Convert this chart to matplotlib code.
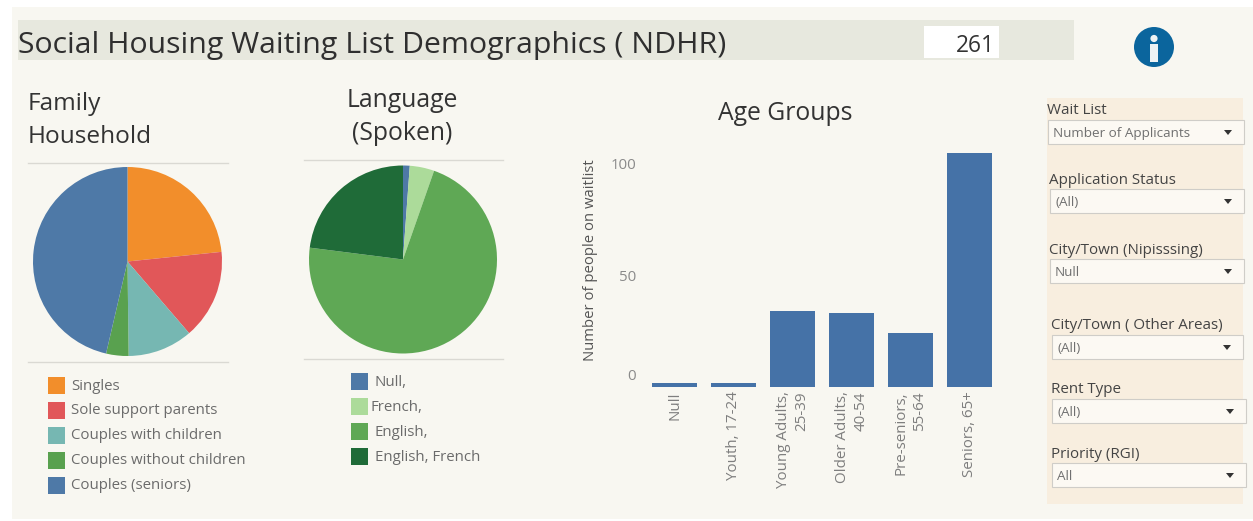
import matplotlib
matplotlib.use('Agg')
import matplotlib.pyplot as plt
from matplotlib.patches import Rectangle, Circle, Polygon
from matplotlib.transforms import ScaledTranslation

W, H = 1253, 521
plt.rcParams['font.family'] = ['Open Sans', 'DejaVu Sans']

# data
family_labels = ['Singles', 'Sole support parents', 'Couples with children',
                 'Couples without children', 'Couples (seniors)']
family_values = [61, 40, 29, 10, 121]
family_colors = ['#F28E2B', '#E15759', '#76B7B2', '#59A14F', '#4E79A7']

language_labels = ['Null,', 'French,', 'English,', 'English, French']
language_values = [3, 11, 187, 60]
language_colors = ['#4E79A7', '#ACDB9A', '#5FA855', '#1F6B38']

age_labels = ['Null', 'Youth, 17-24', 'Young Adults,\n25-39', 'Older Adults,\n40-54',
              'Pre-seniors,\n55-64', 'Seniors, 65+']
age_values = [2, 2, 34, 33, 24, 105]
age_ticks = [0, 50, 100]

filter_titles = ['Wait List', 'Application Status', 'City/Town (Nipisssing)',
                 'City/Town ( Other Areas)', 'Rent Type', 'Priority (RGI)']
filter_values = ['Number of Applicants', '(All)', 'Null', '(All)', '(All)', 'All']
filter_boxes = [(1048, 120, 196), (1050, 189, 194), (1050, 259, 194),
                (1052, 335, 191), (1052, 399, 194), (1052, 463, 194)]
filter_title_y = [110.5, 180.5, 250.5, 325.5, 389.5, 454.5]
total_count = '261'


def px_axes(left, top, right, bottom):
    return fig.add_axes([left / W, 1 - bottom / H, (right - left) / W, (bottom - top) / H])


fig = plt.figure(figsize=(W / 100, H / 100), dpi=100, facecolor='white')

# whole-figure layer in pixel coordinates for the dashboard furniture
bg = fig.add_axes([0, 0, 1, 1])
bg.set_xlim(0, W)
bg.set_ylim(H, 0)
bg.axis('off')

bg.add_patch(Rectangle((12, 7), W - 12, H - 9, color='#F8F7F1', lw=0))
bg.add_patch(Rectangle((18, 20), 1056, 40, color='#E7E8DE', lw=0))
bg.add_patch(Rectangle((924, 26), 75, 32, color='white', lw=0))
bg.text(18, 45, 'Social Housing Waiting List Demographics ( NDHR)', fontsize=21.8,
        color='#2F2F2F', va='center')
bg.text(994.5, 46, total_count, fontsize=16.4, color='#333333', va='center', ha='right')

# info icon
bg.add_patch(Circle((1154, 47), 20, color='#0B659D', lw=0))
bg.add_patch(Circle((1154, 38.5), 3.6, color='#EEF3F4', lw=0))
bg.add_patch(Rectangle((1150, 44), 8, 18, color='#EEF3F4', lw=0))

# section titles
bg.text(28, 104, 'Family', fontsize=17.6, color='#333333', va='center')
bg.text(28, 137, 'Household', fontsize=17.6, color='#333333', va='center')
bg.text(402, 100.5, 'Language', fontsize=17.8, color='#333333', va='center', ha='center')
bg.text(402, 133, '(Spoken)', fontsize=17.8, color='#333333', va='center', ha='center')
bg.text(785, 114, 'Age Groups', fontsize=17.8, color='#333333', va='center', ha='center')

# rules above and below pies
for x0, x1, y in [(28, 228, 163), (28, 228, 362), (304, 503, 160), (304, 503, 359)]:
    bg.plot([x0, x1], [y, y], color='#DAD9D3', lw=1)

# pies
ax1 = px_axes(33, 167, 222, 356)
ax1.pie(family_values, colors=family_colors, startangle=90, counterclock=False, radius=1)
ax1.set_xlim(-1, 1)
ax1.set_ylim(-1, 1)

ax2 = px_axes(309, 165.5, 497, 353.5)
ax2.pie(language_values, colors=language_colors, startangle=90, counterclock=False, radius=1)
ax2.set_xlim(-1, 1)
ax2.set_ylim(-1, 1)

# legends
for i, (lab, col) in enumerate(zip(family_labels, family_colors)):
    y = 377 + i * 24.9
    bg.add_patch(Rectangle((48, y), 17, 17, color=col, lw=0))
    bg.text(71, y + 9, lab, fontsize=10.8, color='#6B6B6B', va='center')

for i, (lab, col) in enumerate(zip(language_labels, language_colors)):
    y = 373 + i * 24.9
    bg.add_patch(Rectangle((351, y), 17, 17, color=col, lw=0))
    bg.text(371 if lab == 'French,' else 375, y + 10, lab, fontsize=10.8, color='#6B6B6B', va='center')

# bar chart
ax3 = px_axes(645, 145, 999, 387)
ax3.set_facecolor('none')
ax3.bar(range(len(age_values)), age_values, width=0.76, color='#4572A7')
ax3.set_xlim(-0.5, 5.5)
ax3.set_ylim(0, 108.5)
for s in ax3.spines.values():
    s.set_visible(False)
ax3.set_yticks(age_ticks)
ax3.set_yticklabels([str(t) for t in age_ticks], fontsize=10.8, color='#8A8A8A')
ax3.tick_params(axis='y', length=0, pad=6.5)
ax3.get_yticklabels()[0].set_transform(ax3.get_yticklabels()[0].get_transform()
                                       + ScaledTranslation(0, 12 / 100, fig.dpi_scale_trans))
ax3.set_xticks(range(len(age_labels)))
ax3.set_xticklabels(age_labels, rotation=90, fontsize=10.9, color='#7E7E7E', ha='center',
                    va='top', multialignment='right', linespacing=1.35)
ax3.tick_params(axis='x', length=0, pad=3)
bg.text(591, 260, 'Number of people on waitlist', fontsize=10.75, color='#555555', rotation=90,
        va='center', ha='center')

# filter panel
bg.add_patch(Rectangle((1047, 98), 196, 406, color='#F8EEDF', lw=0))
for title, value, box, ty in zip(filter_titles, filter_values, filter_boxes, filter_title_y):
    x, y, w = box
    bg.text(x - 1, ty, title, fontsize=10.9, color='#444444', va='center')
    bg.add_patch(Rectangle((x, y), w, 24, facecolor='#FCF9F3', edgecolor='#CFCDC8', lw=0.8))
    bg.text(x + 5, y + 13, value, fontsize=9.7, color='#707070', va='center')
    ax_ = x + w - 16
    bg.add_patch(Polygon([(ax_ - 4, y + 10), (ax_ + 4, y + 10), (ax_, y + 15)], color='#333333', lw=0))

fig.savefig('out.png', dpi=100, facecolor='white')
